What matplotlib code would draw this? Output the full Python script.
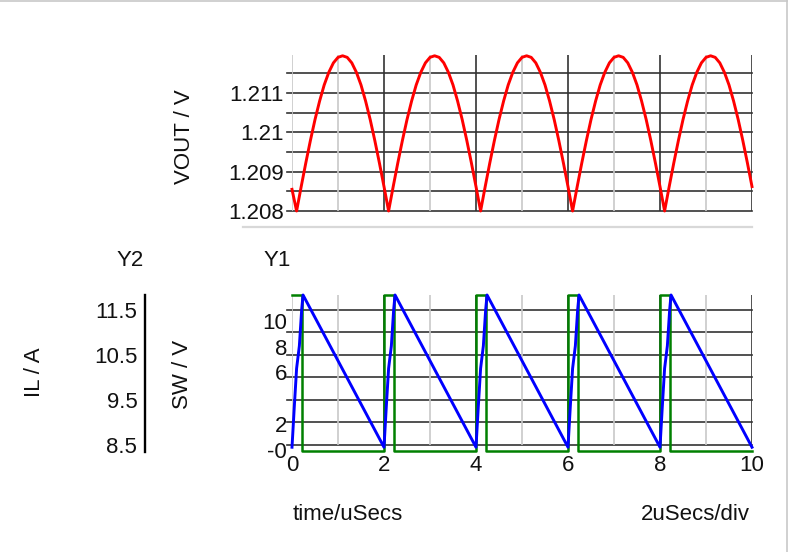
import matplotlib
matplotlib.use('Agg')
import matplotlib.pyplot as plt
from matplotlib.lines import Line2D
import numpy as np

plt.rcParams['font.family'] = ['Liberation Sans', 'DejaVu Sans']

# time axis, uSecs (0.1 us steps)
vout_t = np.linspace(0, 10, 101)
# output voltage, V
vout = [1.20855,
        1.20800, 1.20862, 1.20922, 1.20979, 1.21032, 1.21079, 1.21120, 1.21152, 1.21176, 1.21190,
        1.21194, 1.21190, 1.21176, 1.21152, 1.21120, 1.21079, 1.21032, 1.20979, 1.20922, 1.20862,
        1.20800, 1.20862, 1.20922, 1.20979, 1.21032, 1.21079, 1.21120, 1.21152, 1.21176, 1.21190,
        1.21194, 1.21190, 1.21176, 1.21152, 1.21120, 1.21079, 1.21032, 1.20979, 1.20922, 1.20862,
        1.20800, 1.20862, 1.20922, 1.20979, 1.21032, 1.21079, 1.21120, 1.21152, 1.21176, 1.21190,
        1.21194, 1.21190, 1.21176, 1.21152, 1.21120, 1.21079, 1.21032, 1.20979, 1.20922, 1.20862,
        1.20800, 1.20862, 1.20922, 1.20979, 1.21032, 1.21079, 1.21120, 1.21152, 1.21176, 1.21190,
        1.21194, 1.21190, 1.21176, 1.21152, 1.21120, 1.21079, 1.21032, 1.20979, 1.20922, 1.20862,
        1.20800, 1.20862, 1.20922, 1.20979, 1.21032, 1.21079, 1.21120, 1.21152, 1.21176, 1.21190,
        1.21194, 1.21190, 1.21176, 1.21152, 1.21120, 1.21079, 1.21032, 1.20979, 1.20922, 1.20862]

# switch node voltage (steps-post)
sw_t = [0.0, 0.22, 2.01, 2.22, 4.01, 4.22, 6.01, 6.22, 8.01, 8.22, 10.0]
sw_v = [12.0, -0.1, 12.0, -0.1, 12.0, -0.1, 12.0, -0.1, 12.0, -0.1, -0.1]

# inductor current, A
il_t = [0.0, 0.05, 0.10, 0.16, 0.21, 0.24,
        2.0, 2.05, 2.10, 2.16, 2.21, 2.24,
        4.0, 4.05, 4.10, 4.16, 4.21, 4.24,
        6.0, 6.05, 6.10, 6.16, 6.21, 6.24,
        8.0, 8.05, 8.10, 8.16, 8.21, 8.24, 10.0]
il_a = [8.45, 9.35, 10.2, 10.7, 11.5, 11.83,
        8.45, 9.35, 10.2, 10.7, 11.5, 11.83,
        8.45, 9.35, 10.2, 10.7, 11.5, 11.83,
        8.45, 9.35, 10.2, 10.7, 11.5, 11.83,
        8.45, 9.35, 10.2, 10.7, 11.5, 11.83, 8.45]

# ticks
x_ticks = [0, 2, 4, 6, 8, 10]
vout_grid = [1.208, 1.2085, 1.209, 1.2095, 1.21, 1.2105, 1.211, 1.2115]
vout_labels = ['1.208', '', '1.209', '', '1.21', '', '1.211', '']
sw_ticks = [0, 2, 6, 8, 10]
sw_labels = ['-0', '2', '6', '8', '10']
il_grid = [8.5, 9.0, 9.5, 10.0, 10.5, 11.0, 11.5]
il_ticks = [8.5, 9.5, 10.5, 11.5]

W, H = 791, 552
DARK = '#333333'
LIGHT = '#c8c8c8'
FS = 16
TXT = '#111111'


def px(x, y):
    return x / W, 1 - y / H


def vgrid(ax, lo, hi):
    # dark every 2 us, light in between and at 0
    for x in range(11):
        c = DARK if (x % 2 == 0 and x > 0) else LIGHT
        ax.vlines(x, lo, hi, color=c, lw=1.2, zorder=1)


fig = plt.figure(figsize=(W / 100, H / 100), dpi=100)

# top pane: VOUT
ax_top = fig.add_axes([292 / W, 1 - 211 / H, 460 / W, 156 / H])
ax_top.set_xlim(0, 10)
ax_top.set_ylim(1.208, 1.21196)
for s in ax_top.spines.values():
    s.set_visible(False)
for y in vout_grid:
    ax_top.axhline(y, xmin=-5 / 460, xmax=1, color=DARK, lw=1.2, clip_on=False, zorder=1)
vgrid(ax_top, 1.208, 1.21196)
ax_top.plot(vout_t, vout, color='#ff0000', lw=2.1, clip_on=False, zorder=3)
ax_top.set_xticks([])
ax_top.set_yticks(vout_grid)
ax_top.set_yticklabels(vout_labels)
ax_top.tick_params(axis='y', length=0, pad=6, labelsize=FS, labelcolor=TXT)

# bottom pane: IL (Y2) and SW (Y1)
ax_il = fig.add_axes([292 / W, 1 - 452 / H, 460 / W, 157 / H])
ax_sw = ax_il.twinx()
ax_il.set_xlim(0, 10)
ax_il.set_ylim(8.344, 11.83)
for s in ax_il.spines.values():
    s.set_visible(False)
for s in ax_sw.spines.values():
    s.set_visible(False)
for y in il_grid:
    ax_il.axhline(y, xmin=-5 / 460, xmax=1, color=DARK, lw=1.2, clip_on=False, zorder=1)
vgrid(ax_il, 8.5, 11.83)

ax_sw.plot(sw_t, sw_v, color='#008000', lw=1.8, drawstyle='steps-post', clip_on=False, zorder=3)
ax_sw.plot(il_t, il_a, color='#0000ff', lw=2.1, transform=ax_il.transData, clip_on=False, zorder=4)
ax_sw.set_ylim(-0.17, 12.0)

# Y2 axis moved out to the left
ax_il.spines['left'].set_visible(True)
ax_il.spines['left'].set_position(('outward', 147 * 0.72))
ax_il.spines['left'].set_linewidth(1.7)
ax_il.spines['left'].set_color('black')
ax_il.set_yticks(il_ticks)
ax_il.set_yticklabels([str(v) for v in il_ticks])
ax_il.tick_params(axis='y', length=0, pad=5.5, labelsize=FS, labelcolor=TXT)
ax_il.set_xticks(x_ticks)
ax_il.set_xticklabels([str(v) for v in x_ticks])
ax_il.tick_params(axis='x', length=0, pad=2, labelsize=FS, labelcolor=TXT)

# Y1 axis at the plot's left edge
ax_sw.yaxis.tick_left()
ax_sw.set_yticks(sw_ticks)
ax_sw.set_yticklabels(sw_labels)
ax_sw.tick_params(axis='y', length=0, pad=3.6, labelsize=FS, labelcolor=TXT)

# labels
fig.text(*px(185, 137), 'VOUT / V', rotation=90, ha='center', va='center', fontsize=FS, color=TXT)
fig.text(*px(183, 374), 'SW / V', rotation=90, ha='center', va='center', fontsize=FS, color=TXT)
fig.text(*px(35, 372), 'IL / A', rotation=90, ha='center', va='center', fontsize=FS, color=TXT)
fig.text(*px(130, 261), 'Y2', ha='center', va='center', fontsize=FS, color=TXT)
fig.text(*px(277, 261), 'Y1', ha='center', va='center', fontsize=FS, color=TXT)
fig.text(*px(348, 515), 'time/uSecs', ha='center', va='center', fontsize=FS, color=TXT)
fig.text(*px(695, 515), '2uSecs/div', ha='center', va='center', fontsize=FS, color=TXT)

# pane separator and window border
fig.add_artist(Line2D([243 / W, 752 / W], [1 - 227 / H] * 2, color='#d8d8d8', lw=1.6))
fig.add_artist(Line2D([0, 787 / W], [1 - 0.5 / H] * 2, color='#c8c8c8', lw=1.2))
fig.add_artist(Line2D([787 / W] * 2, [0, 1], color='#c8c8c8', lw=1.2))

plt.savefig('out.png', dpi=100)
